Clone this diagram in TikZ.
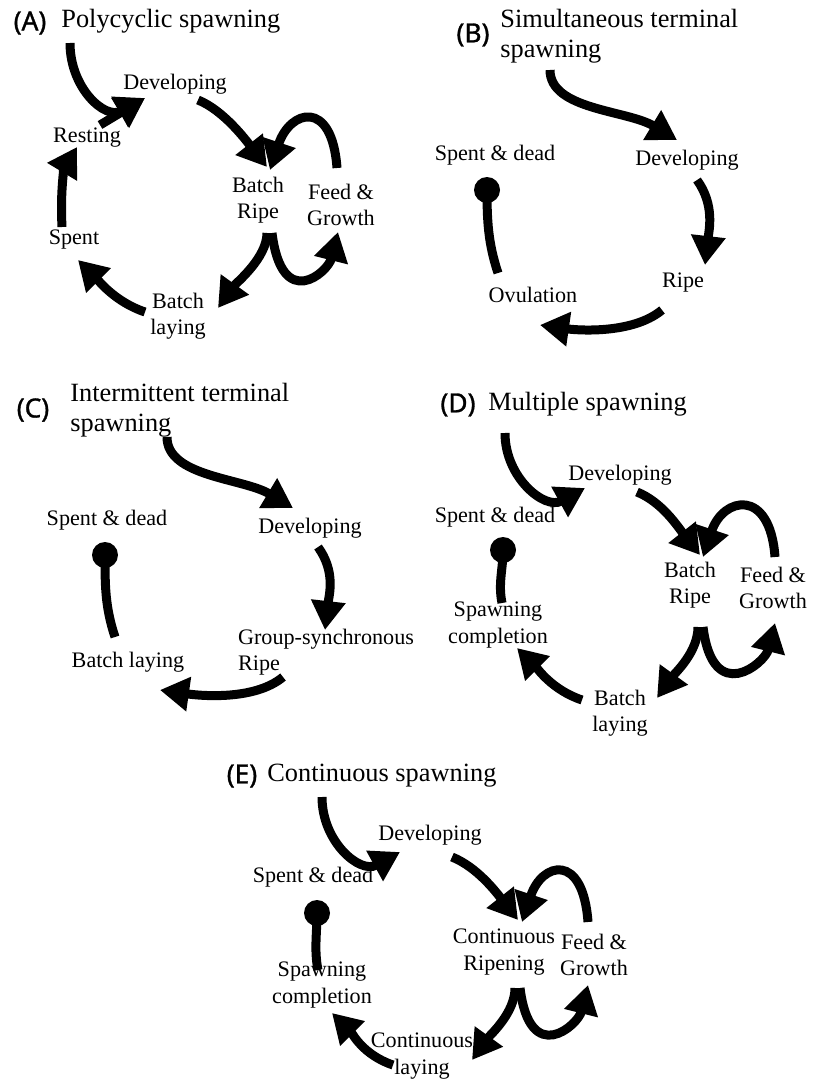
\documentclass[tikz,border=0pt]{standalone}
\usepackage{fontspec}
\setmainfont{Liberation Serif}
\newfontfamily\tagfont[FakeBold=1.2]{Noto Sans}
\usetikzlibrary{arrows.meta}
\tikzset{
flow/.style={line width=0.18cm, -{Triangle[width=0.66cm,length=0.58cm]}}, % thick cycle arrows
link/.style={line width=0.18cm}, % plain stroke into the end dot
stage/.style={align=center, inner sep=1pt, font=\fontsize{12.6}{15}\selectfont}, % stage labels
heading/.style={anchor=west, align=left, inner sep=0pt, font=\fontsize{15}{17}\selectfont},
tag/.style={inner sep=0pt, font=\tagfont\fontsize{15}{17}\selectfont}, % (A), (B), ...
deadend/.style={circle, fill, inner sep=0pt, minimum size=0.52cm}, % spent & dead
}

\begin{document}
\begin{tikzpicture}[x=0.02cm, y=-0.02cm] % one unit = one pixel, y going down
\useasboundingbox (0,0) rectangle (815,1081);

% ---------- (A) polycyclic ----------
\node[tag] (tagA) at (30,23) {(A)};
\node[heading] (headA) at (61,21) {Polycyclic spawning};
\node[stage] (devA) at (175,84) {Developing};
\node[stage] (restA) at (87,138) {Resting};
\node[stage] (ripeA) at (258,200) {Batch\\Ripe};
\node[stage] (feedA) at (341,205) {Feed \&\\Growth};
\node[stage] (layA) at (178,316) {Batch\\laying};
\node[stage] (spentA) at (74,240) {Spent};
\path (70,43) coordinate (A0) (145,98) coordinate (A1) (100,125) coordinate (A2)
      (198,100) coordinate (A3) (267,167) coordinate (A4)
      (337,168) coordinate (A5) (270,170) coordinate (A6)
      (267,233) coordinate (A7) (218,308) coordinate (A8)
      (272,233) coordinate (A9) (338,232) coordinate (A10)
      (145,312) coordinate (A11) (78,260) coordinate (A12)
      (62,227) coordinate (A13) (77,147) coordinate (A14);
\draw[flow] (A0) .. controls +(0,45) and +(-40,22) .. (A1);
\draw[flow] (A2) -- (A1);
\draw[flow] (A3) .. controls +(25,10) and +(-22,-28) .. (A4);
\draw[flow] (A5) .. controls +(-5,-70) and +(20,-60) .. (A6);
\draw[flow] (A7) .. controls +(0,25) and +(18,-25) .. (A8);
\draw[flow] (A9) .. controls +(10,80) and +(-10,40) .. (A10);
\draw[flow] (A11) .. controls +(-30,-10) and +(20,20) .. (A12);
\draw[flow] (A13) .. controls +(-2,-40) and +(-12,20) .. (A14);

% ---------- (B) simultaneous terminal ----------
\node[tag] (tagB) at (473,35) {(B)};
\node[heading] (headB) at (500,36) {Simultaneous terminal\\spawning};
\node[stage] (devB) at (687,160) {Developing};
\node[stage] (ripeB) at (683,283) {Ripe};
\node[stage] (ovuB) at (533,295) {Ovulation};
\node[stage] (deadB) at (495,155) {Spent \& dead};
\node[deadend] (dotB) at (487,190) {};
\path (550,70) coordinate (B0) (677,140) coordinate (B1)
      (697,180) coordinate (B2) (705,265) coordinate (B3)
      (662,310) coordinate (B4) (540,325) coordinate (B5)
      (498,273) coordinate (B6);
\draw[flow] (B0) .. controls +(0,40) and +(-50,-30) .. (B1);
\draw[flow] (B2) .. controls +(18,25) and +(4,-35) .. (B3);
\draw[flow] (B4) .. controls +(-30,25) and +(35,5) .. (B5);
\draw[link] (B6) .. controls +(-10,-30) and +(0,30) .. (dotB.center);

% ---------- (C) intermittent terminal ----------
\node[tag] (tagC) at (33,410) {(C)};
\node[heading] (headC) at (70,410) {Intermittent terminal\\spawning};
\node[stage] (devC) at (310,528) {Developing};
\node[stage, anchor=west, align=left] (ripeC) at (236,652) {Group-synchronous\\Ripe};
\node[stage] (layC) at (128,662) {Batch laying};
\node[stage] (deadC) at (107,520) {Spent \& dead};
\node[deadend] (dotC) at (105,555) {};
\path (167,437) coordinate (C0) (293,508) coordinate (C1)
      (318,547) coordinate (C2) (325,630) coordinate (C3)
      (283,677) coordinate (C4) (160,690) coordinate (C5)
      (115,637) coordinate (C6);
\draw[flow] (C0) .. controls +(0,40) and +(-50,-30) .. (C1);
\draw[flow] (C2) .. controls +(18,25) and +(4,-35) .. (C3);
\draw[flow] (C4) .. controls +(-30,25) and +(35,5) .. (C5);
\draw[link] (C6) .. controls +(-10,-30) and +(0,30) .. (dotC.center);

% ---------- (D) multiple ----------
\node[tag] (tagD) at (458,405) {(D)};
\node[heading] (headD) at (488,404) {Multiple spawning};
\node[stage] (devD) at (620,475) {Developing};
\node[stage] (ripeD) at (690,585) {Batch\\Ripe};
\node[stage] (feedD) at (773,588) {Feed \&\\Growth};
\node[stage] (layD) at (620,713) {Batch\\laying};
\node[stage] (compD) at (498,625) {Spawning\\completion};
\node[stage] (deadD) at (495,517) {Spent \& dead};
\node[deadend] (dotD) at (503,550) {};
\path (505,433) coordinate (D0) (585,488) coordinate (D1)
      (637,492) coordinate (D2) (700,555) coordinate (D3)
      (775,557) coordinate (D4) (703,557) coordinate (D5)
      (698,627) coordinate (D6) (657,698) coordinate (D7)
      (703,627) coordinate (D8) (775,623) coordinate (D9)
      (582,700) coordinate (D10) (517,648) coordinate (D11)
      (502,603) coordinate (D12);
\draw[flow] (D0) .. controls +(0,45) and +(-40,22) .. (D1);
\draw[flow] (D2) .. controls +(25,10) and +(-22,-28) .. (D3);
\draw[flow] (D4) .. controls +(-5,-70) and +(20,-60) .. (D5);
\draw[flow] (D6) .. controls +(0,25) and +(18,-25) .. (D7);
\draw[flow] (D8) .. controls +(10,80) and +(-10,40) .. (D9);
\draw[flow] (D10) .. controls +(-30,-10) and +(20,20) .. (D11);
\draw[link] (D12) .. controls +(-4,-20) and +(0,20) .. (dotD.center);

% ---------- (E) continuous ----------
\node[tag] (tagE) at (242,776) {(E)};
\node[heading] (headE) at (267,776) {Continuous spawning};
\node[stage] (devE) at (430,835) {Developing};
\node[stage] (ripeE) at (504,952) {Continuous\\Ripening};
\node[stage] (feedE) at (594,955) {Feed \&\\Growth};
\node[stage] (layE) at (422,1056) {Continuous\\laying};
\node[stage] (compE) at (322,985) {Spawning\\completion};
\node[stage] (deadE) at (313,877) {Spent \& dead};
\node[deadend] (dotE) at (317,913) {};
\path (322,797) coordinate (E0) (400,852) coordinate (E1)
      (452,857) coordinate (E2) (518,920) coordinate (E3)
      (588,922) coordinate (E4) (522,922) coordinate (E5)
      (515,988) coordinate (E6) (472,1060) coordinate (E7)
      (520,988) coordinate (E8) (588,985) coordinate (E9)
      (393,1065) coordinate (E10) (332,1013) coordinate (E11)
      (318,970) coordinate (E12);
\draw[flow] (E0) .. controls +(0,45) and +(-40,22) .. (E1);
\draw[flow] (E2) .. controls +(25,10) and +(-22,-28) .. (E3);
\draw[flow] (E4) .. controls +(-5,-70) and +(20,-60) .. (E5);
\draw[flow] (E6) .. controls +(0,25) and +(18,-25) .. (E7);
\draw[flow] (E8) .. controls +(10,80) and +(-10,40) .. (E9);
\draw[flow] (E10) .. controls +(-30,-10) and +(20,20) .. (E11);
\draw[link] (E12) .. controls +(-4,-20) and +(0,20) .. (dotE.center);
\end{tikzpicture}
\end{document}
